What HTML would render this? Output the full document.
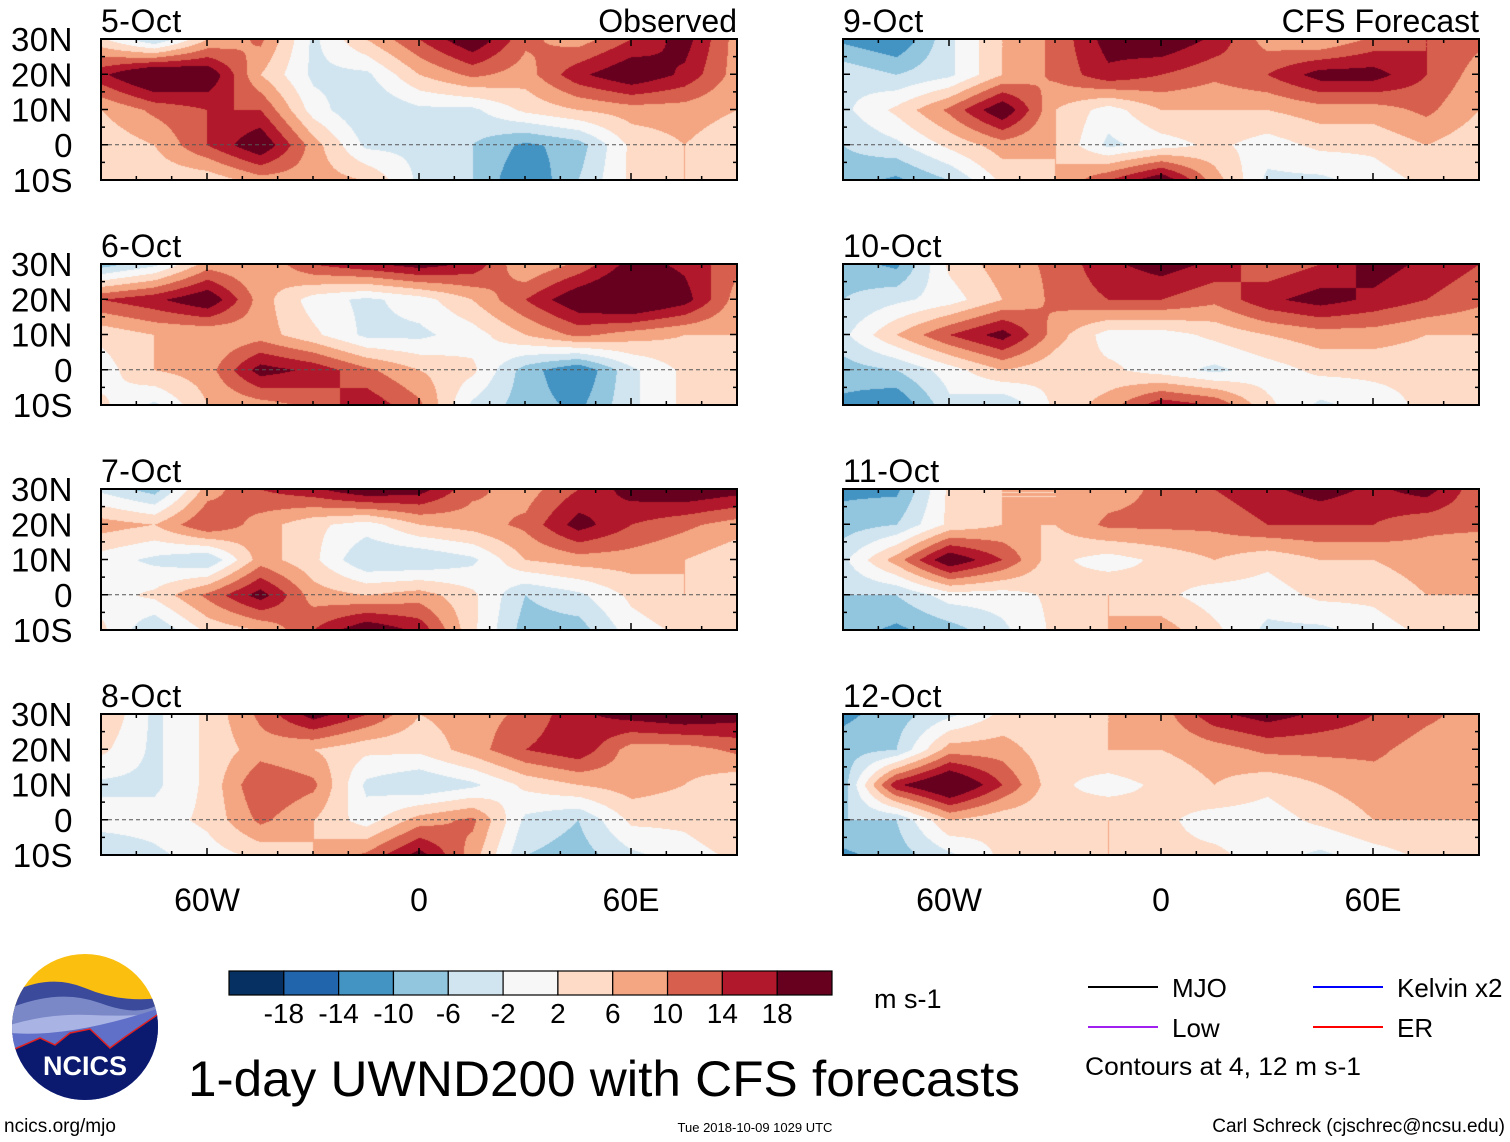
<!DOCTYPE html>
<html><head><meta charset="utf-8">
<style>
body{margin:0;background:#fff;width:1510px;height:1142px;overflow:hidden;position:relative;font-family:"Liberation Sans",sans-serif;}
.abs{position:absolute;}
canvas{position:absolute;}
</style></head>
<body>
<div id="maps"></div>
<svg id="ov" class="abs" style="left:0;top:0" width="1510" height="1142"></svg>

<svg class="abs" style="left:10px;top:953px" width="150" height="150">
<defs><clipPath id="cc"><circle cx="75" cy="74" r="73"/></clipPath></defs>
<g clip-path="url(#cc)">
<rect x="0" y="0" width="150" height="150" fill="#fbbf0f"/>
<path d="M0 40 Q40 20 75 35 T150 45 V150 H0Z" fill="#3b4a9a"/>
<path d="M0 55 Q50 35 90 50 T150 50 V150 H0Z" fill="#7a88c8"/>
<path d="M0 72 Q40 60 80 62 T150 60 V150 H0Z" fill="#aab4e4"/>
<path d="M0 80 Q60 85 150 55 V150 H0Z" fill="#6070c8"/>
<path d="M0 98 L30 85 L45 92 L60 80 L80 76 L100 95 L115 84 L150 60 V150 H0Z" fill="#0b1a6e" stroke="#e02020" stroke-width="1.5"/>
</g>
<text x="75" y="122" text-anchor="middle" font-size="27" font-weight="bold" fill="#fff" font-family="Liberation Sans, sans-serif">NCICS</text>
</svg>

<script>
const lons=[-90,-75,-60,-45,-30,-15,0,15,30,45,60,75,90];
const lats=[30,20,10,0,-10];
const titles=["5-Oct","6-Oct","7-Oct","8-Oct","9-Oct","10-Oct","11-Oct","12-Oct"];
const p5=[[3,-6,6,11,-3,6,14,22,11,8,14,20,8],[17,25,22,6,-3,-3,6,11,8,17,22,17,8],[6,11,14,14,0,-6,-3,-3,3,6,8,8,6],[3,6,14,22,8,-3,-3,-6,-11,-8,3,6,3],[3,3,3,8,8,6,-3,-6,-14,-6,3,6,6]];
const p6=[[-8,-3,8,6,14,17,20,17,6,11,20,17,11],[14,17,22,8,0,-3,0,6,14,22,25,20,8],[3,6,6,8,3,-3,-3,0,6,11,8,6,6],[0,6,8,20,17,11,6,3,-8,-14,-3,3,3],[3,-3,6,8,11,17,11,-3,-8,-11,-3,3,3]];
const p7=[[-3,-8,8,14,17,22,20,11,8,14,20,22,20],[8,6,14,8,3,0,6,8,11,20,14,11,8],[0,-3,-6,8,3,-6,-6,-3,6,8,8,6,3],[0,3,11,20,8,6,8,3,-6,-3,3,6,3],[3,-6,3,6,14,22,17,3,-8,-8,0,3,3]];
const p8=[[6,-3,3,11,20,14,6,8,11,17,20,22,20],[3,-3,3,8,6,3,3,8,14,17,8,8,11],[-3,-3,3,14,11,-3,-6,-3,3,6,8,6,3],[0,0,3,11,6,0,8,11,-3,-6,3,3,6],[-6,-3,0,3,6,11,20,8,-6,-8,-3,0,3]];
const p9=[[-11,-14,-3,6,11,20,22,17,8,6,11,14,11],[-3,-6,-3,6,11,17,14,11,14,20,20,14,8],[-3,3,11,22,6,0,6,6,6,8,8,11,6],[-6,-3,3,8,6,-3,0,3,0,3,3,6,3],[-8,-11,-6,3,6,14,22,8,-3,-3,0,3,3]];
const p10=[[-8,-11,3,8,11,17,20,17,11,14,20,17,14],[-6,-3,0,6,11,14,14,11,17,20,17,14,11],[-3,6,14,20,8,0,0,3,6,8,8,6,6],[-8,-6,0,6,3,3,0,-3,0,3,3,3,6],[-11,-14,-3,-6,3,8,17,14,3,-3,0,3,3]];
const p11=[[-11,-11,3,6,6,8,11,14,17,20,17,20,11],[-8,-6,3,6,6,11,11,11,14,14,14,11,11],[-3,8,22,14,3,0,3,6,3,6,6,8,6],[-6,-6,0,0,3,6,3,0,0,3,3,6,6],[-8,-11,-8,-3,3,6,8,3,-3,-3,0,3,3]];
const p12=[[-11,-8,-3,3,3,6,8,17,20,17,14,11,8],[-8,-6,8,8,3,6,6,8,11,11,11,8,8],[-8,17,25,14,3,0,3,6,3,6,8,8,6],[-6,-6,6,3,3,6,3,0,0,3,6,6,6],[-11,-8,-3,3,6,6,3,3,0,-3,0,3,3]];
const fields=[p5,p6,p7,p8,p9,p10,p11,p12];
const levels=[-18,-14,-10,-6,-2,2,6,10,14,18];
const cbLabels=["-18","-14","-10","-6","-2","2","6","10","14","18"];
const colors=["#053061","#2166ac","#4393c3","#92c5de","#d1e5f0","#f7f7f7","#fddbc7","#f4a582","#d6604d","#b2182b","#67001f"];
const lonTicks=[-60,0,60], lonTickLabels=["60W","0","60E"];
const latTicks=[30,20,10,0,-10], latTickLabels=["30N","20N","10N","0","10S"];

const PW=636,PH=141,colX=[101,843],rowY=[39,264,489,714];
const xOf=(lon,x0)=>x0+(lon+90)/180*PW;
const yOf=(lat,y0)=>y0+(30-lat)/40*PH;
function rgb(h){return [parseInt(h.substr(1,2),16),parseInt(h.substr(3,2),16),parseInt(h.substr(5,2),16)];}
const crgb=colors.map(rgb);
function cls(v){let i=0;while(i<levels.length&&v>=levels[i])i++;return i;}
function sample(f,lon,lat){
 let fx=(lon+90)/15, fy=(30-lat)/10;
 fx=Math.max(0,Math.min(12,fx)); fy=Math.max(0,Math.min(4,fy));
 let i=Math.min(11,Math.floor(fx)), j=Math.min(3,Math.floor(fy));
 let tx=fx-i, ty=fy-j;
 return (f[j][i]*(1-tx)+f[j][i+1]*tx)*(1-ty)+(f[j+1][i]*(1-tx)+f[j+1][i+1]*tx)*ty;
}
const NS="http://www.w3.org/2000/svg";
const ov=document.getElementById('ov');
function el(tag,attrs,parent){const e=document.createElementNS(NS,tag);for(const k in attrs)e.setAttribute(k,attrs[k]);(parent||ov).appendChild(e);return e;}
function txt(s,attrs){const e=el('text',attrs);e.textContent=s;return e;}

fields.forEach((f,k)=>{
 const col=Math.floor(k/4);
 const x0=colX[col], y0=rowY[k%4];
 const c=document.createElement('canvas');
 c.width=PW;c.height=PH;c.style.left=x0+'px';c.style.top=y0+'px';
 
 
 document.getElementById('maps').appendChild(c);
 const ctx=c.getContext('2d');const img=ctx.createImageData(PW,PH);
 for(let y=0;y<PH;y++){const lat=30-y/PH*40;
  for(let x=0;x<PW;x++){const lon=-90+x/PW*180;
   const cc=crgb[cls(sample(f,lon,lat))];const p=(y*PW+x)*4;
   img.data[p]=cc[0];img.data[p+1]=cc[1];img.data[p+2]=cc[2];img.data[p+3]=255;}}
 ctx.putImageData(img,0,0);
 const g=el('g',{});
 
 
 el('line',{x1:x0,x2:x0+PW,y1:yOf(0,y0),y2:yOf(0,y0),stroke:'#555','stroke-width':1,'stroke-dasharray':'4,3'},g);
 el('rect',{x:x0,y:y0,width:PW,height:PH,fill:'none',stroke:'#000','stroke-width':2},g);
 for(let lon=-90;lon<=90;lon+=10){const x=xOf(lon,x0);const L=(lon%60===0)?7:4;
  el('line',{x1:x,x2:x,y1:y0,y2:y0+L,stroke:'#000','stroke-width':1.5},g);
  el('line',{x1:x,x2:x,y1:y0+PH,y2:y0+PH-L,stroke:'#000','stroke-width':1.5},g);}
 for(let lat=-10;lat<=30;lat+=5){const y=yOf(lat,y0);const L=(lat%10===0)?7:4;
  el('line',{x1:x0,x2:x0+L,y1:y,y2:y,stroke:'#000','stroke-width':1.5},g);
  el('line',{x1:x0+PW,x2:x0+PW-L,y1:y,y2:y,stroke:'#000','stroke-width':1.5},g);}
 const t=txt(titles[k],{x:x0,y:y0-7,'font-size':32,'letter-spacing':'0.5'});
 
 
 if(col===0){
 latTicks.forEach((lat,i)=>{const yl=txt(latTickLabels[i],{x:x0-28,y:yOf(lat,y0)+12,'font-size':33,'text-anchor':'end','letter-spacing':'0.5'});
  
  });
 }
});
const t1=txt("Observed",{x:737,y:32,'font-size':32,'text-anchor':'end'});


const t2=txt("CFS Forecast",{x:1479,y:32,'font-size':32,'text-anchor':'end'});


colX.forEach(x0=>lonTicks.forEach((lon,i)=>{const l=txt(lonTickLabels[i],{x:xOf(lon,x0),y:911,'font-size':32,'text-anchor':'middle'});
 
 }));
const cbX=229,cbY=971,cbW=603/colors.length,cbH=24;
colors.forEach((c,i)=>{const r=el('rect',{x:cbX+i*cbW,y:cbY,width:cbW,height:cbH,fill:c,stroke:'#000','stroke-width':1.2});
 
 });
cbLabels.forEach((s,i)=>{const l=txt(s,{x:cbX+(i+1)*cbW,y:1023,'font-size':28,'text-anchor':'middle'});
 
 });
const u=txt("m s-1",{x:874,y:1008,'font-size':27});


const ti=txt("1-day UWND200 with CFS forecasts",{x:188,y:1096,'font-size':50,'textLength':832,'lengthAdjust':'spacingAndGlyphs'});


[["MJO","#000",1088,987],["Low","#a020f0",1088,1027],["Kelvin x2","#0000ff",1313,987],["ER","#ff0000",1313,1027]].forEach(([n,c,x,y])=>{
 const g=el('g',{});
 
 
 el('line',{x1:x,x2:x+70,y1:y,y2:y,stroke:c,'stroke-width':2},g);
 const t=el('text',{x:x+84,y:y+10,'font-size':26},g);t.textContent=n;});
const cn=txt("Contours at 4, 12 m s-1",{x:1085,y:1075,'font-size':25,'textLength':276,'lengthAdjust':'spacingAndGlyphs'});


const f1=txt("ncics.org/mjo",{x:4,y:1132,'font-size':19});


const f2=txt("Tue 2018-10-09 1029 UTC",{x:755,y:1132,'font-size':13,'text-anchor':'middle'});


const f3=txt("Carl Schreck (cjschrec@ncsu.edu)",{x:1505,y:1132,'font-size':19,'text-anchor':'end'});


</script>
</body></html>
